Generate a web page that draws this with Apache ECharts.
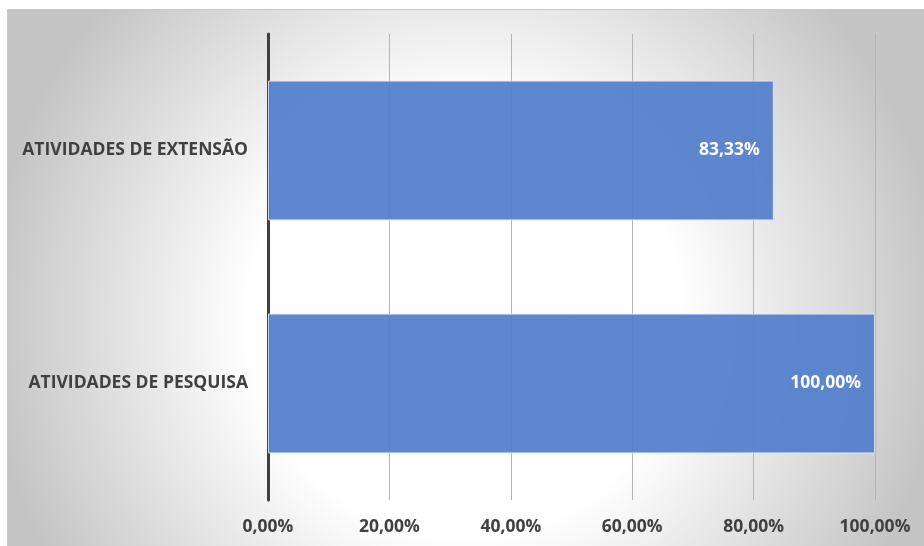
<!DOCTYPE html>
<html>
<head>
<meta charset="utf-8">
<script src="https://cdn.jsdelivr.net/npm/echarts@6/dist/echarts.min.js"></script>
<style>
  html, body { margin: 0; padding: 0; background: #ffffff; }
  #chart { width: 924px; height: 546px; }
</style>
</head>
<body>
<div id="chart"></div>
<script>
// Categories listed bottom-to-top (ECharts category y axis starts at the bottom)
const categories = ['ATIVIDADES DE PESQUISA', 'ATIVIDADES DE EXTENSÃO'];
const percentValues = [100.00, 83.33];
const axisTicks = [0, 20, 40, 60, 80, 100];

const fmt = v => v.toFixed(2).replace('.', ',') + '%';
const fontFamily = '"Open Sans", Lato, sans-serif';
const fontSize = 17.5;

const chart = echarts.init(document.getElementById('chart'));

chart.setOption({
  animation: false,
  graphic: [{
    type: 'rect',
    z: -10,
    silent: true,
    shape: { x: 7.5, y: 9.5, width: 930, height: 550 },
    style: {
      stroke: '#c8c8c8',
      lineWidth: 1,
      fill: {
        type: 'radial',
        global: true,
        x: 465, y: 320, r: 480,
        colorStops: [
          { offset: 0, color: '#ffffff' },
          { offset: 0.45, color: '#ffffff' },
          { offset: 1, color: '#c4c4c4' }
        ]
      }
    }
  }],
  grid: { left: 268, right: 49, top: 34, bottom: 46 },
  xAxis: {
    type: 'value',
    min: axisTicks[0],
    max: axisTicks[axisTicks.length - 1],
    interval: axisTicks[1] - axisTicks[0],
    axisLine: { show: false },
    axisTick: { show: false },
    splitLine: { show: true, lineStyle: { color: '#b4b4b4', width: 1 } },
    axisLabel: {
      formatter: v => fmt(v),
      color: '#404040',
      fontFamily: fontFamily,
      fontWeight: 'bold',
      fontSize: fontSize,
      margin: 18
    }
  },
  yAxis: {
    type: 'category',
    data: categories,
    axisLine: { show: true, lineStyle: { color: '#404040', width: 3 } },
    axisTick: { show: false },
    axisLabel: {
      color: '#404040',
      fontFamily: fontFamily,
      fontWeight: 'bold',
      fontSize: fontSize,
      margin: 20
    }
  },
  series: [{
    type: 'bar',
    data: percentValues,
    barCategoryGap: '40%',
    z: 1,
    itemStyle: {
      color: 'rgba(82, 126, 203, 0.93)',
      borderColor: 'rgba(225, 232, 246, 0.9)',
      borderWidth: 1
    },
    label: {
      show: true,
      position: 'insideRight',
      distance: 14,
      formatter: p => fmt(p.value),
      color: '#ffffff',
      fontFamily: fontFamily,
      fontWeight: 'bold',
      fontSize: fontSize
    }
  }]
});
</script>
</body>
</html>
